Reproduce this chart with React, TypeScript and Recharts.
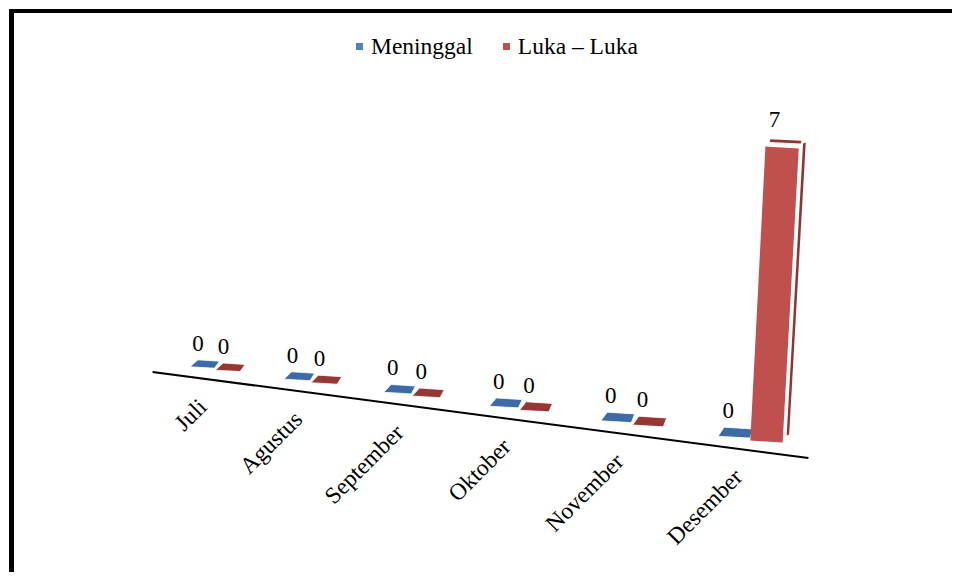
import { BarChart, Bar, XAxis, YAxis, ReferenceLine, LabelList } from 'recharts'

const months = ['Juli', 'Agustus', 'September', 'Oktober', 'November', 'Desember']
const meninggal = [0, 0, 0, 0, 0, 0]
const lukaLuka = [0, 0, 0, 0, 0, 7]
const seriesKeys = ['meninggal', 'luka']
const seriesNames = ['Meninggal', 'Luka – Luka']
const seriesColors = ['#4F81BD', '#C0504D']
const floorColors = ['#3C6BA5', '#953735']
const sideColor = '#8E3533'

const data = months.map((month, i) => ({ month, meninggal: meninggal[i], luka: lukaLuka[i] }))

const WIDTH = 960
const HEIGHT = 580
const margin = { top: 143, right: 162, bottom: 113, left: 165 }
const BAR = 27
const GAP = 2
const BAND = (WIDTH - margin.left - margin.right) / months.length
const FIRST = margin.left + (BAND - 2 * BAR - GAP) / 2
const FONT = '"Liberation Serif", "Times New Roman", serif'

// fake perspective: spacing grows to the right and the floor tilts down
const depthT = (x: number) => (x - FIRST) / BAND
const proj = (x: number) => {
  const t = depthT(x)
  return FIRST + BAND * (0.8635 * t + 0.0275 * t * t)
}
const floorY = (sx: number) => 372 + 0.131 * (sx - 152)

const pts = (...p: number[][]) => p.map((q) => `${q[0]},${q[1]}`).join(' ')

function geom(x: number, width: number) {
  const t = depthT(x)
  const l = proj(x)
  const r = proj(x + width)
  const c = (l + r) / 2
  const base = floorY(c) - 11
  return { t, l, r, yl: base - 0.06 * (c - l), yr: base + 0.06 * (r - c) }
}

function Bar3D(props: any) {
  const { x, width, height, series } = props
  const { t, l, r, yl, yr } = geom(x, width)
  if (!height || height < 1) {
    const d = 7 * (1 + 0.06 * t)
    const s = 8 - 0.4 * t
    return (
      <polygon
        points={pts([l, yl], [r + 1, yr], [r + s - 2, yr - d], [l + s, yl - d])}
        fill={floorColors[series]}
        stroke="#fff"
        strokeWidth={0.8}
      />
    )
  }
  const lean = 0.048 * height
  const tl = [l + lean, yl - height]
  const tr = [r + lean + 2, yr - height]
  return (
    <g>
      <polygon points={pts([l - 1, yl], [r, yr], tr, tl)} fill={seriesColors[series]} />
      <polygon
        points={pts([tl[0] + 5, tl[1] - 7.3], [tr[0] + 2.7, tr[1] - 7.7], [tr[0] + 2, tr[1] - 5], [tl[0] + 4.3, tl[1] - 4.7])}
        fill={sideColor}
      />
      <polygon
        points={pts([tr[0] + 4.3, tr[1] - 5], [tr[0] + 7, tr[1] - 6], [r + 6.5, yr - 8], [r + 4, yr - 7])}
        fill={sideColor}
      />
    </g>
  )
}

function ValueLabel(props: any) {
  const vb = props.viewBox || props
  const x = props.x ?? vb.x
  const width = props.width ?? vb.width
  const height = props.height ?? vb.height
  const { t, l, r, yl } = geom(x, width)
  let cx: number
  let by: number
  if (!height || Math.abs(height) < 1) {
    const d = 7 * (1 + 0.06 * t)
    cx = l + 0.3 * (r - l) + 1
    by = yl - d - 9
  } else {
    const lean = 0.048 * height
    cx = l + lean + 9
    by = yl - height - 20
  }
  return (
    <text x={cx} y={by} textAnchor="middle" fontFamily={FONT} fontSize={23} fill="#000">
      {props.value}
    </text>
  )
}

function MonthTick(props: any) {
  const sx = proj(props.x) - 6
  const ey = floorY(sx) + 29
  return (
    <text
      x={sx}
      y={ey}
      transform={`rotate(-45 ${sx} ${ey})`}
      textAnchor="end"
      fontFamily={FONT}
      fontSize={23.5}
      fill="#000"
    >
      {props.payload.value}
    </text>
  )
}

function FloorLine(props: any) {
  const a = proj(props.x1) - 16
  const b = proj(props.x2) - 3
  return <line x1={a} y1={floorY(a)} x2={b} y2={floorY(b)} stroke="#000" strokeWidth={2} />
}

export default function App() {
  return (
    <div style={{ position: 'relative', width: WIDTH, height: HEIGHT, margin: -8, background: '#fff', overflow: 'hidden' }}>
      <div style={{ position: 'absolute', left: 9, top: 9, width: 5, height: HEIGHT - 9, background: '#000' }} />
      <div style={{ position: 'absolute', left: 9, top: 9, width: WIDTH - 9, height: 3.5, background: '#000' }} />
      <div
        style={{
          position: 'absolute',
          left: 356,
          top: 33,
          display: 'flex',
          alignItems: 'center',
          fontFamily: FONT,
          fontSize: 23.5,
          color: '#000',
          whiteSpace: 'nowrap',
        }}
      >
        {seriesNames.map((name, i) => (
          <div key={name} style={{ display: 'flex', alignItems: 'center', marginRight: 30 }}>
            <span style={{ width: 7, height: 7, background: seriesColors[i], marginRight: 8 }} />
            <span>{name}</span>
          </div>
        ))}
      </div>
      <BarChart
        width={WIDTH}
        height={HEIGHT}
        data={data}
        margin={margin}
        barGap={GAP}
        style={{ position: 'absolute', left: 0, top: 0 }}
      >
        <XAxis
          dataKey="month"
          interval={0}
          height={30}
          axisLine={false}
          tickLine={false}
          tick={(p: any) => <MonthTick {...p} />}
        />
        <YAxis hide domain={[0, 7]} />
        <ReferenceLine y={0} shape={(p: any) => <FloorLine {...p} />} />
        {seriesKeys.map((key, i) => (
          <Bar
            key={key}
            dataKey={key}
            name={seriesNames[i]}
            fill={seriesColors[i]}
            barSize={BAR}
            isAnimationActive={false}
            shape={(p: any) => <Bar3D {...p} series={i} />}
          >
            <LabelList dataKey={key} content={(p: any) => <ValueLabel {...p} />} />
          </Bar>
        ))}
      </BarChart>
    </div>
  )
}
